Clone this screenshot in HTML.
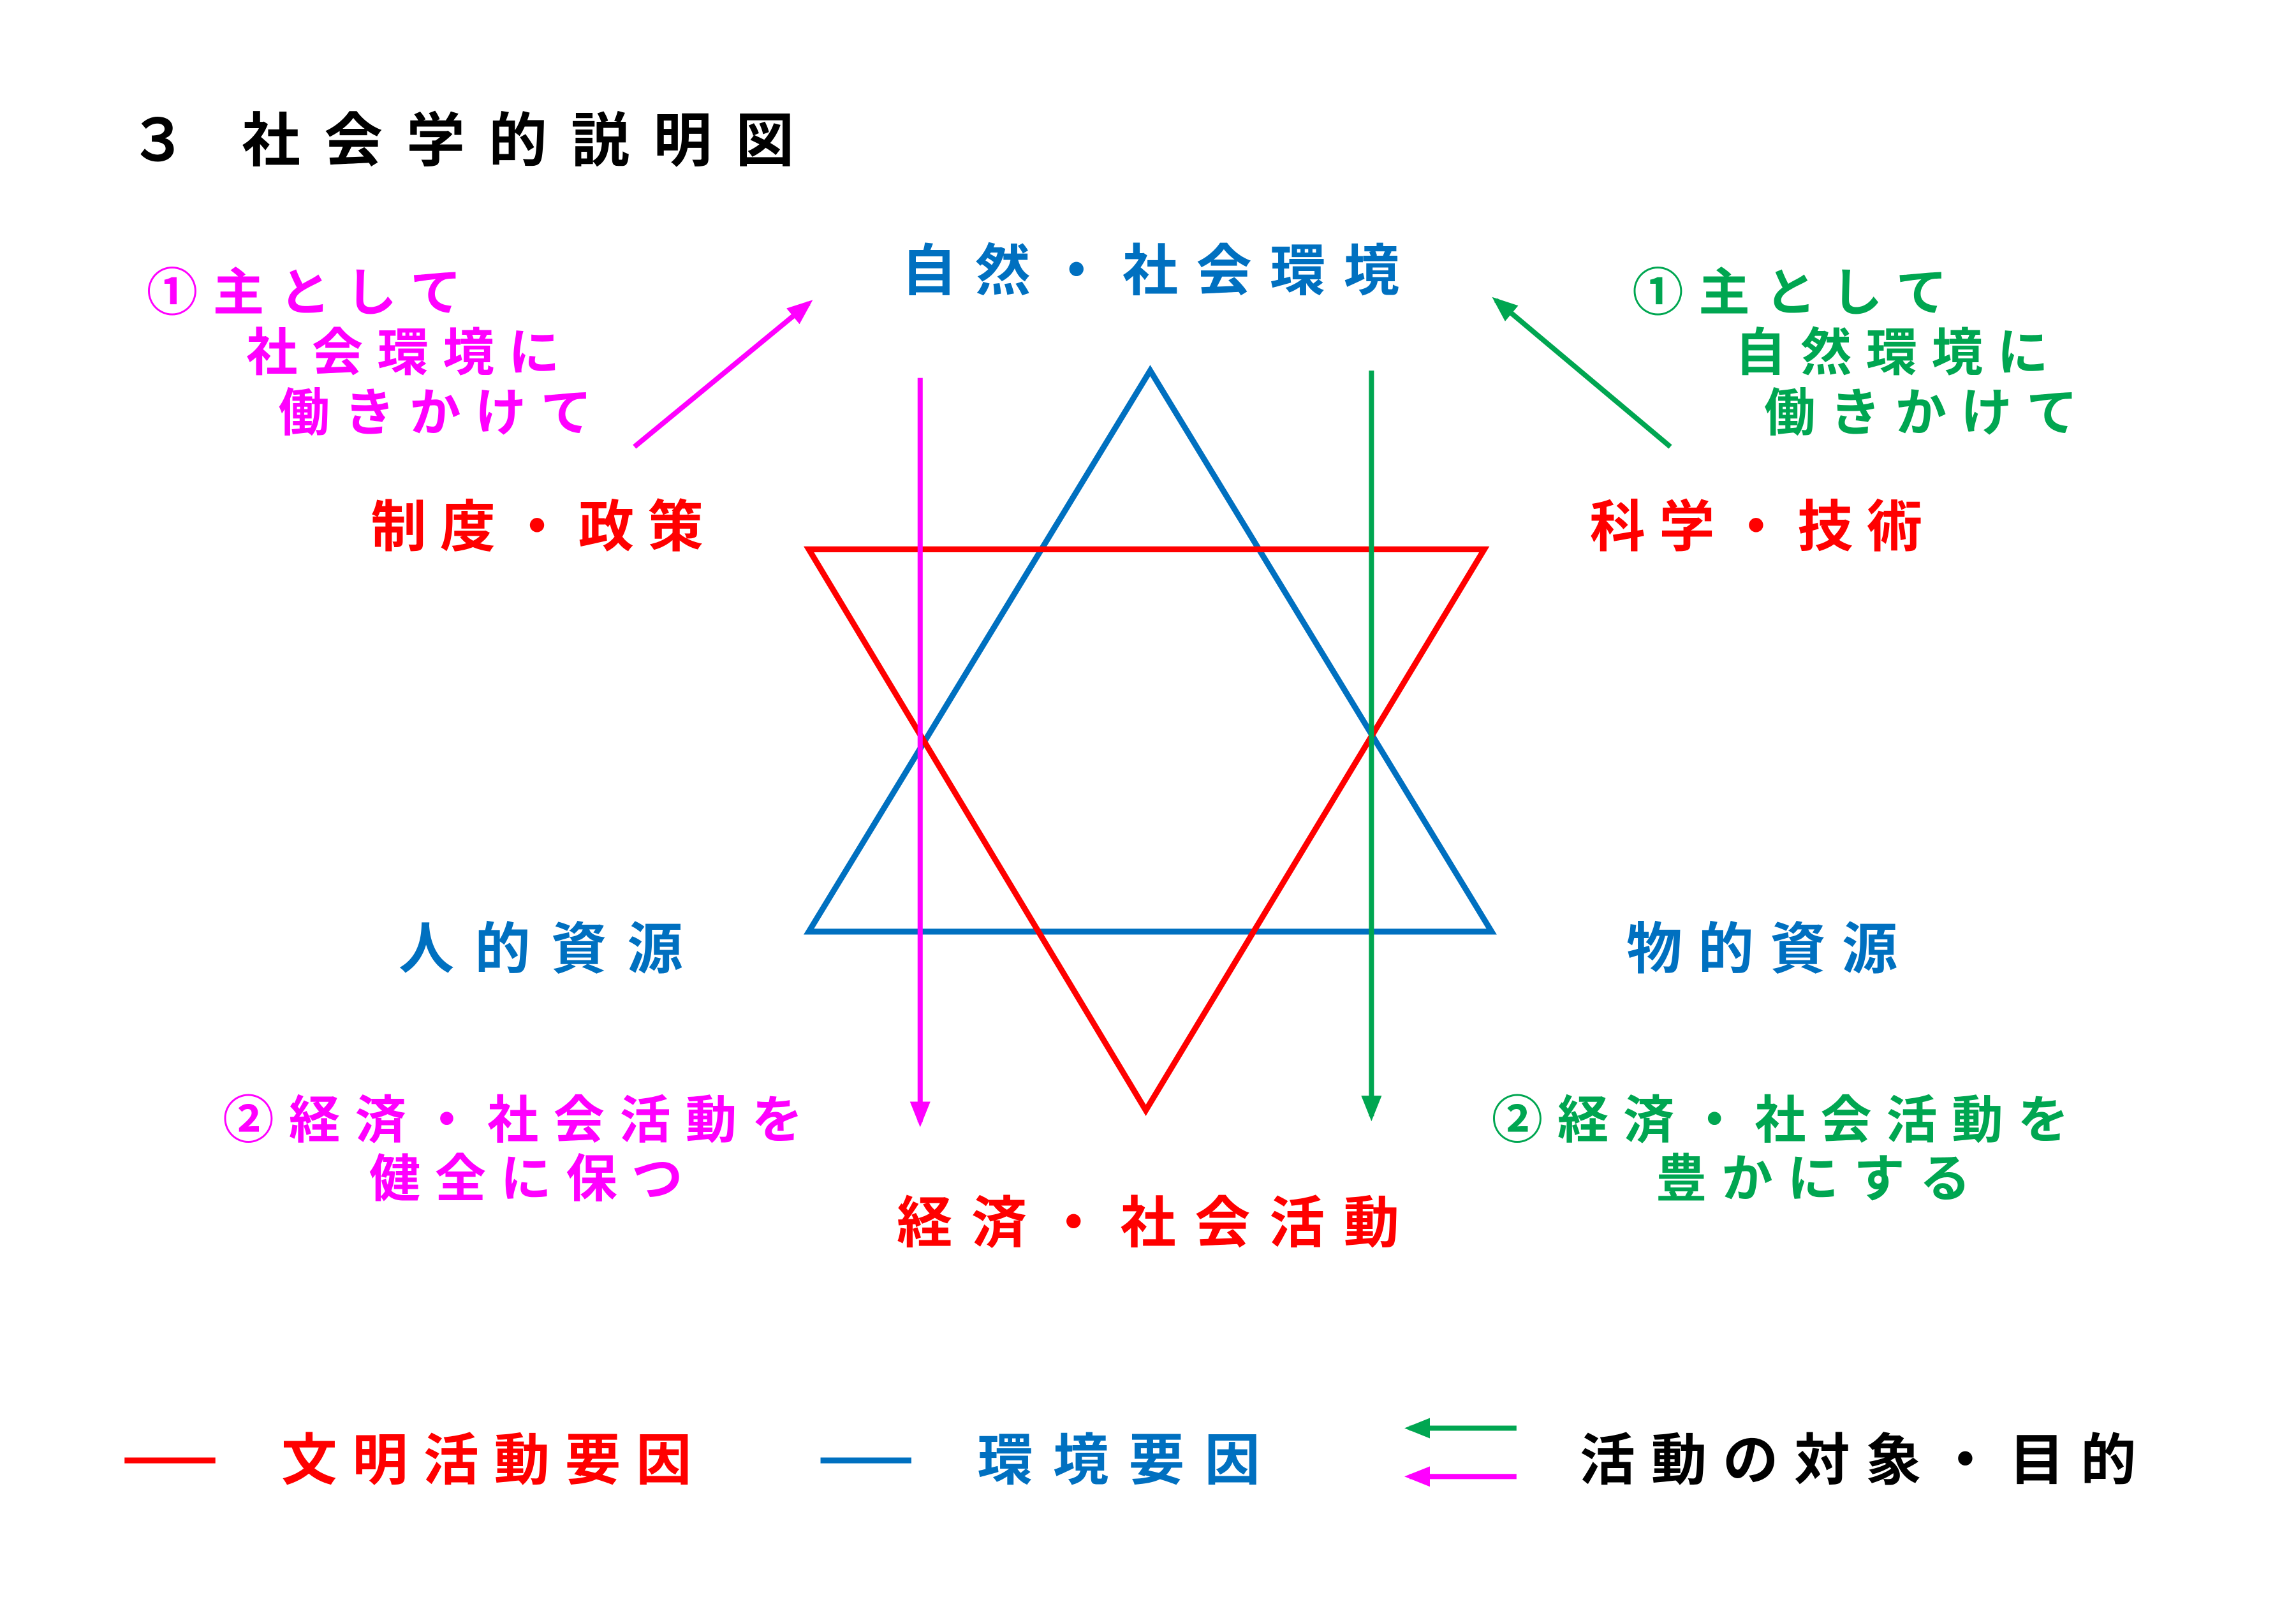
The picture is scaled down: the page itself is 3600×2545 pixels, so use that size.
<!DOCTYPE html>
<html><head><meta charset="utf-8"><style>
html,body{margin:0;padding:0;background:#fff;}
svg{display:block;}
text{font-family:"Liberation Sans","Noto Sans CJK JP",sans-serif;font-weight:bold;}
</style></head><body>
<svg width="3600" height="2545" viewBox="0 0 1567 1108" preserveAspectRatio="none" xmlns="http://www.w3.org/2000/svg">
<defs>
<marker id="mm" markerWidth="5" markerHeight="4" refX="4" refY="2" orient="auto" markerUnits="strokeWidth"><path d="M0,0 L5,2 L0,4 Z" fill="#ff00ff"/></marker>
<marker id="mg" markerWidth="5" markerHeight="4" refX="4" refY="2" orient="auto" markerUnits="strokeWidth"><path d="M0,0 L5,2 L0,4 Z" fill="#00a651"/></marker>
</defs>
<text x="88" y="110" font-size="40" fill="#000">３</text>
<text x="165" y="110" font-size="40" fill="#000" textLength="377" lengthAdjust="spacing">社会学的説明図</text>

<polygon points="785,253 552,636 1018,636" fill="none" stroke="#0070c0" stroke-width="4"/>
<polygon points="552,375 1013,375 782,758" fill="none" stroke="#ff0000" stroke-width="4"/>

<line x1="628" y1="258" x2="628" y2="766" stroke="#ff00ff" stroke-width="3.5" marker-end="url(#mm)"/>
<line x1="936" y1="253" x2="936" y2="762" stroke="#00a651" stroke-width="3.5" marker-end="url(#mg)"/>
<line x1="433" y1="305" x2="552" y2="207" stroke="#ff00ff" stroke-width="3.5" marker-end="url(#mm)"/>
<line x1="1140" y1="305" x2="1021" y2="205" stroke="#00a651" stroke-width="3.5" marker-end="url(#mg)"/>

<text x="615" y="198" font-size="38" fill="#0070c0" textLength="340" lengthAdjust="spacing">自然・社会環境</text>

<g font-size="35" fill="#ff00ff">
<text x="100" y="212" textLength="215" lengthAdjust="spacing">①主として</text>
<text x="168" y="253" textLength="214" lengthAdjust="spacing">社会環境に</text>
<text x="190" y="294" textLength="214" lengthAdjust="spacing">働きかけて</text>
<text x="152" y="777" textLength="396" lengthAdjust="spacing">②経済・社会活動を</text>
<text x="252" y="817" textLength="214" lengthAdjust="spacing">健全に保つ</text>
</g>
<g font-size="35" fill="#00a651">
<text x="1114" y="212" textLength="215" lengthAdjust="spacing">①主として</text>
<text x="1184" y="253" textLength="214" lengthAdjust="spacing">自然環境に</text>
<text x="1204" y="294" textLength="214" lengthAdjust="spacing">働きかけて</text>
<text x="1018" y="777" textLength="394" lengthAdjust="spacing">②経済・社会活動を</text>
<text x="1130" y="817" textLength="215" lengthAdjust="spacing">豊かにする</text>
</g>
<g font-size="38" fill="#ff0000">
<text x="253" y="373" textLength="227" lengthAdjust="spacing">制度・政策</text>
<text x="1085" y="373" textLength="227" lengthAdjust="spacing">科学・技術</text>
<text x="612" y="848" textLength="343" lengthAdjust="spacing">経済・社会活動</text>
</g>
<g font-size="38" fill="#0070c0">
<text x="272" y="661" textLength="194" lengthAdjust="spacing">人的資源</text>
<text x="1110" y="661" textLength="185" lengthAdjust="spacing">物的資源</text>
</g>

<line x1="85" y1="997" x2="147" y2="997" stroke="#ff0000" stroke-width="4"/>
<text x="192" y="1010" font-size="38" fill="#ff0000" textLength="280" lengthAdjust="spacing">文明活動要因</text>
<line x1="560" y1="997" x2="622" y2="997" stroke="#0070c0" stroke-width="4"/>
<text x="667" y="1010" font-size="38" fill="#0070c0" textLength="193" lengthAdjust="spacing">環境要因</text>
<line x1="1035" y1="975" x2="962" y2="975" stroke="#00a651" stroke-width="3.5" marker-end="url(#mg)"/>
<line x1="1035" y1="1008" x2="962" y2="1008" stroke="#ff00ff" stroke-width="3.5" marker-end="url(#mm)"/>
<text x="1078" y="1010" font-size="38" fill="#000" textLength="380" lengthAdjust="spacing">活動の対象・目的</text>
</svg>
</body></html>
